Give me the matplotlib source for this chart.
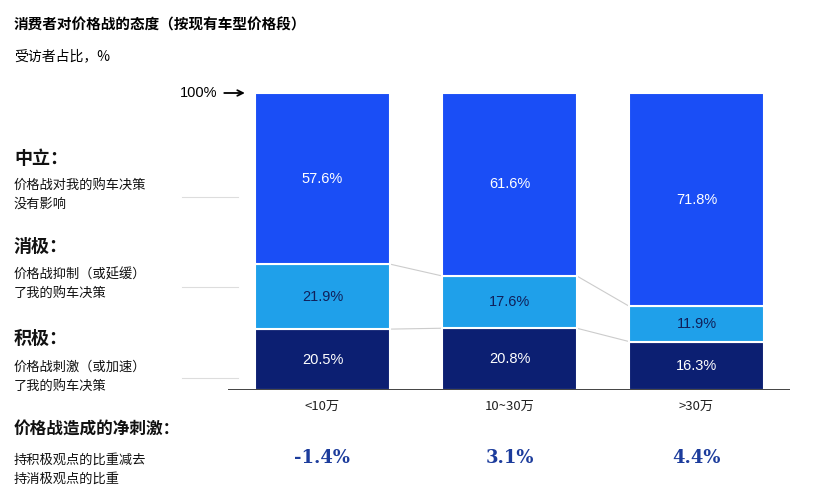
import matplotlib.pyplot as plt
import numpy as np

plt.rcParams['font.family'] = ['Noto Sans CJK SC']

categories = ['<10万', '10~30万', '>30万']
positive = [20.5, 20.8, 16.3]
negative = [21.9, 17.6, 11.9]
neutral = [57.6, 61.6, 71.8]
net_labels = ['-1.4%', '3.1%', '4.4%']

c_pos = '#0c1f72'
c_neg = '#1fa0ea'
c_neu = '#1a4ef6'

fig = plt.figure(figsize=(8.2, 5), dpi=100)
fig.patch.set_facecolor('white')
ax = fig.add_axes([228 / 820, 1 - 390 / 500, 562 / 820, 297 / 500])

x = np.arange(len(categories))
w = 0.72
pos = np.array(positive)
neg = np.array(negative)
neu = np.array(neutral)
ax.bar(x, pos, w, color=c_pos, edgecolor='white', linewidth=1.5)
ax.bar(x, neg, w, bottom=pos, color=c_neg, edgecolor='white', linewidth=1.5)
ax.bar(x, neu, w, bottom=pos + neg, color=c_neu, edgecolor='white', linewidth=1.5)

num = 'Liberation Sans'
for i in range(len(x)):
    ax.text(x[i], pos[i] / 2, f'{positive[i]}%', ha='center', va='center', color='white', fontsize=10.5, family=num)
    ax.text(x[i], pos[i] + neg[i] / 2, f'{negative[i]}%', ha='center', va='center', color='#10205a',
            fontsize=10.5, family=num)
    ax.text(x[i], pos[i] + neg[i] + neu[i] / 2, f'{neutral[i]}%', ha='center', va='center', color='white',
            fontsize=10.5, family=num)
    ax.text(x[i], -5.5, categories[i], ha='center', va='center', fontsize=9.5, color='#222222')
    ax.text(x[i], -23, net_labels[i], ha='center', va='center', fontsize=13, color='#1c3c9c',
            fontweight='bold', family='DejaVu Serif')

# connector lines
for i in range(len(x) - 1):
    for lev in [pos, pos + neg]:
        ax.plot([x[i] + w / 2, x[i + 1] - w / 2], [lev[i], lev[i + 1]], color='#cccccc', lw=0.8, zorder=0)

ax.set_xlim(-0.505, 2.5)
ax.set_ylim(0, 100)
ax.axhline(0, color='#222222', lw=1.2)
ax.axis('off')
ax.annotate('', xy=(-0.40, 100), xytext=(-0.54, 100), xycoords='data',
            arrowprops=dict(arrowstyle='->', color='black', lw=1.3), annotation_clip=False)
ax.text(-0.56, 100, '100%', ha='right', va='center', fontsize=10.5, family=num)

fig.text(14 / 820, 1 - 25 / 500, '消费者对价格战的态度（按现有车型价格段）', fontsize=10.5, fontweight='bold', va='center')
fig.text(14 / 820, 1 - 56 / 500, '受访者占比，%', fontsize=10, va='center')

left = [
    (158, '中立：', True, 13), (195, '价格战对我的购车决策\n没有影响', False, 9.5),
    (246, '消极：', True, 13), (284, '价格战抑制（或延缓）\n了我的购车决策', False, 9.5),
    (338, '积极：', True, 13), (377, '价格战刺激（或加速）\n了我的购车决策', False, 9.5),
    (430, '价格战造成的净刺激：', True, 12), (470, '持积极观点的比重减去\n持消极观点的比重', False, 9.5),
]
for y, t, b, fs in left:
    fig.text(14 / 820, 1 - y / 500, t, fontsize=fs, fontweight='bold' if b else 'normal',
             va='center', linespacing=1.6, color='#111111')
for y in [197, 287, 378]:
    fig.add_artist(plt.Line2D([182 / 820, 238 / 820], [1 - y / 500] * 2, color='#dddddd', lw=0.8))

fig.savefig('out.png', dpi=100)
